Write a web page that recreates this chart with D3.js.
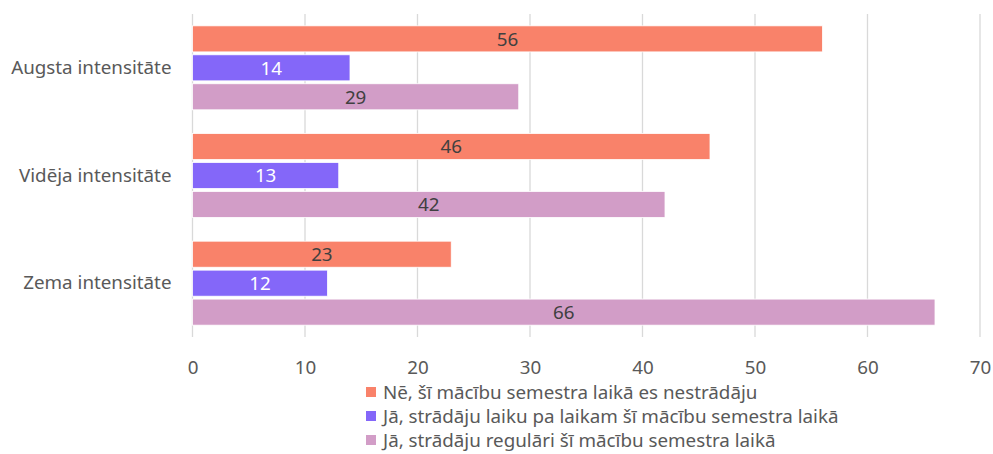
<!DOCTYPE html>
<html>
<head>
<meta charset="utf-8">
<script src="https://cdn.jsdelivr.net/npm/d3@7"></script>
<style>
body { margin: 0; background: #fff; }
text { font-family: "Noto Sans", sans-serif; }
</style>
</head>
<body>
<script>
// data
var categories = ["Augsta intensitāte", "Vidēja intensitāte", "Zema intensitāte"];
var seriesNames = [
    "Nē, šī mācību semestra laikā es nestrādāju",
    "Jā, strādāju laiku pa laikam šī mācību semestra laikā",
    "Jā, strādāju regulāri šī mācību semestra laikā"
];
var notWorking = [56, 46, 23];
var sometimes = [14, 13, 12];
var regularly = [29, 42, 66];
var xTicks = [0, 10, 20, 30, 40, 50, 60, 70];

var colors = ["#F9826A", "#8467F9", "#D29DC7"];
var labelColors = ["#404040", "#ffffff", "#404040"];
var fontSize = "18.8px";

var width = 993, height = 454;
var margin = { top: 14, right: 13, bottom: 117, left: 192.5 };
var innerW = width - margin.left - margin.right,
    innerH = height - margin.top - margin.bottom;

var values = [notWorking, sometimes, regularly];
var rows = [];
categories.forEach(function(c, i) {
    values.forEach(function(s, j) {
        rows.push({ cat: c, series: j, value: s[i] });
    });
});

var x = d3.scaleLinear().domain([0, 70]).range([0, innerW]);
var y0 = d3.scaleBand().domain(categories).range([0, innerH]).paddingInner(0.22).paddingOuter(0.11);
var y1 = d3.scaleBand().domain([0, 1, 2]).range([0, y0.bandwidth()]).paddingInner(0.1);

var svg = d3.select("body").append("svg")
    .attr("width", width)
    .attr("height", height);

var g = svg.append("g")
    .attr("transform", "translate(" + margin.left + "," + margin.top + ")");

// gridlines
g.selectAll(".grid")
    .data(xTicks)
    .enter().append("line")
    .attr("class", "grid")
    .attr("x1", function(d) { return x(d); })
    .attr("x2", function(d) { return x(d); })
    .attr("y1", 0)
    .attr("y2", innerH)
    .attr("stroke", "#d9d9d9")
    .attr("stroke-width", 1.3);

// x axis labels
var xAxis = d3.axisBottom(x).tickValues(xTicks).tickSize(0).tickPadding(0);
g.append("g")
    .attr("transform", "translate(0," + (innerH + 37) + ")")
    .call(xAxis)
    .call(function(a) { a.select(".domain").remove(); })
    .selectAll("text")
    .attr("dy", "0")
    .style("font-family", "'Noto Sans', sans-serif")
    .style("font-size", fontSize)
    .attr("fill", "#595959");

// category labels
var yAxis = d3.axisLeft(y0).tickSize(0).tickPadding(21);
g.append("g")
    .call(yAxis)
    .call(function(a) { a.select(".domain").remove(); })
    .selectAll("text")
    .style("font-family", "'Noto Sans', sans-serif")
    .style("font-size", fontSize)
    .attr("fill", "#595959");

// bars
g.selectAll(".bar")
    .data(rows)
    .enter().append("rect")
    .attr("class", "bar")
    .attr("x", x(0))
    .attr("y", function(d) { return y0(d.cat) + y1(d.series); })
    .attr("width", function(d) { return x(d.value) - x(0); })
    .attr("height", y1.bandwidth())
    .attr("fill", function(d) { return colors[d.series]; })
    .attr("stroke", "#ffffff")
    .attr("stroke-width", 0.8);

// value labels
g.selectAll(".value")
    .data(rows)
    .enter().append("text")
    .attr("class", "value")
    .attr("x", function(d) { return x(d.value / 2); })
    .attr("y", function(d) { return y0(d.cat) + y1(d.series) + y1.bandwidth() / 2; })
    .attr("dy", "0.36em")
    .attr("text-anchor", "middle")
    .style("font-size", fontSize)
    .attr("fill", function(d) { return labelColors[d.series]; })
    .text(function(d) { return d.value; });

// legend
var legend = svg.selectAll(".legend")
    .data(seriesNames)
    .enter().append("g")
    .attr("class", "legend")
    .attr("transform", function(d, i) {
        return "translate(366," + (392 + i * 24) + ")";
    });

legend.append("rect")
    .attr("x", 0)
    .attr("y", -5)
    .attr("width", 10)
    .attr("height", 10)
    .attr("fill", function(d, i) { return colors[i]; });

legend.append("text")
    .attr("x", 17)
    .attr("y", 0)
    .attr("dy", "0.35em")
    .style("font-size", fontSize)
    .attr("fill", "#595959")
    .text(function(d) { return d; });
</script>
</body>
</html>
